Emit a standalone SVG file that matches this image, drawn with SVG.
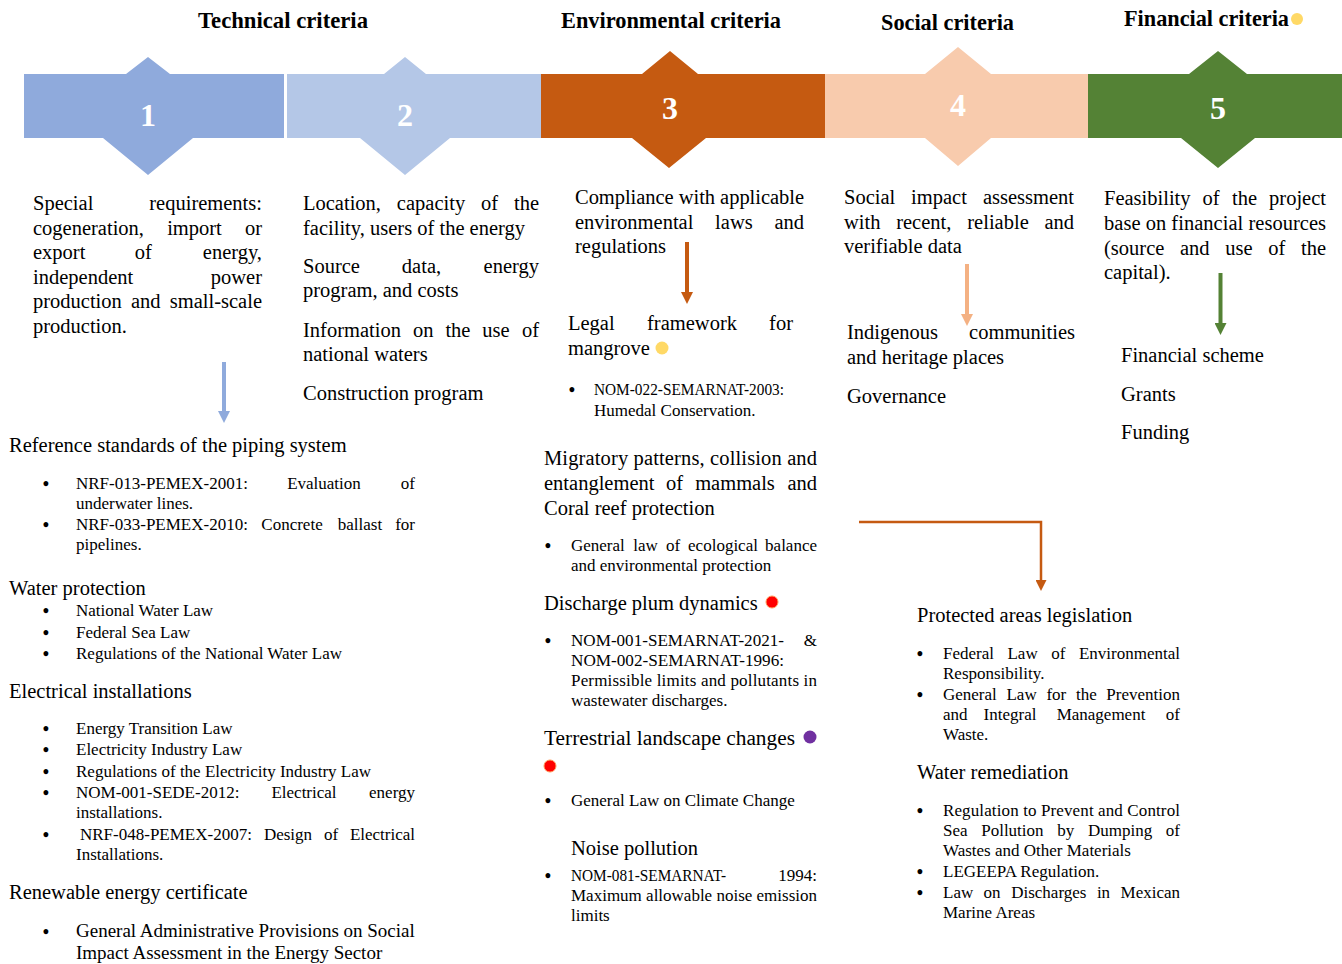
<svg xmlns="http://www.w3.org/2000/svg" width="1342" height="964" viewBox="0 0 1342 964">
<style>
text{font-family:"Liberation Serif","Times New Roman",serif;fill:#000}
.h{font-weight:bold;font-size:23px}
.n{font-weight:bold;font-size:32px;fill:#fff;text-anchor:middle}
.t{font-size:20.5px}
.s{font-size:17px}
.b{font-size:18px;font-weight:bold;text-anchor:middle}
.m{text-anchor:middle}
.e{text-anchor:end}
.arr{fill:none;stroke-width:4}
</style>
<defs>
<marker id="hb" markerUnits="userSpaceOnUse" markerWidth="12" markerHeight="12" viewBox="0 0 12 12" refX="0" refY="6" orient="auto"><path d="M0,0L12,6L0,12z" fill="#8FAADC"/></marker>
<marker id="ho" markerUnits="userSpaceOnUse" markerWidth="12" markerHeight="12" viewBox="0 0 12 12" refX="0" refY="6" orient="auto"><path d="M0,0L12,6L0,12z" fill="#C55A11"/></marker>
<marker id="hp" markerUnits="userSpaceOnUse" markerWidth="12" markerHeight="12" viewBox="0 0 12 12" refX="0" refY="6" orient="auto"><path d="M0,0L12,6L0,12z" fill="#F4B183"/></marker>
<marker id="hg" markerUnits="userSpaceOnUse" markerWidth="12" markerHeight="12" viewBox="0 0 12 12" refX="0" refY="6" orient="auto"><path d="M0,0L12,6L0,12z" fill="#548235"/></marker>
<marker id="ho2" markerUnits="userSpaceOnUse" markerWidth="11" markerHeight="11" viewBox="0 0 11 11" refX="0" refY="5.5" orient="auto"><path d="M0,0L11,5.5L0,11z" fill="#C55A11"/></marker>
</defs>
<rect width="1342" height="964" fill="#fff"/>

<g id="headers">
<text class="h" x="198" y="28" textLength="170" lengthAdjust="spacingAndGlyphs">Technical criteria</text>
<text class="h" x="561" y="28" textLength="220" lengthAdjust="spacingAndGlyphs">Environmental criteria</text>
<text class="h" x="881" y="30" textLength="133" lengthAdjust="spacingAndGlyphs">Social criteria</text>
<text class="h" x="1124" y="26" textLength="165" lengthAdjust="spacingAndGlyphs">Financial criteria</text>
<circle cx="1297" cy="19" r="6" fill="#FFD966"/>
</g>

<g id="step1">
<polygon points="24,74 126,74 148,57 170,74 284,74 284,138 193,138 148,175 103,138 24,138" fill="#8FAADC"/>
<text class="n" x="148" y="126">1</text>
</g>
<g id="step2">
<polygon points="287,74 384,74 405,57 426,74 541,74 541,138 450,138 405,175 360,138 287,138" fill="#B4C7E7"/>
<text class="n" x="405" y="126">2</text>
</g>
<g id="step3">
<polygon points="541,74 642,74 670,51 698,74 825,74 825,138 706,138 669,168 632,138 541,138" fill="#C55A11"/>
<text class="n" x="670" y="119">3</text>
</g>
<g id="step4">
<polygon points="825,74 925,74 958,47 991,74 1088,74 1088,138 991,138 958,166 925,138 825,138" fill="#F8CBAD"/>
<text class="n" x="958" y="116">4</text>
</g>
<g id="step5">
<polygon points="1088,74 1189,74 1218,51 1247,74 1342,74 1342,138 1255,138 1218,168 1181,138 1088,138" fill="#548235"/>
<text class="n" x="1218" y="119">5</text>
</g>

<g id="tech-special">
<text class="t" x="33" y="210">Special</text><text class="t e" x="262" y="210">requirements:</text>
<text class="t" x="33" y="235">cogeneration,</text><text class="t m" x="194.5" y="235">import</text><text class="t e" x="262" y="235">or</text>
<text class="t" x="33" y="259">export</text><text class="t m" x="143.3" y="259">of</text><text class="t e" x="262" y="259">energy,</text>
<text class="t" x="33" y="284">independent</text><text class="t e" x="262" y="284">power</text>
<text class="t" x="33" y="308">production</text><text class="t m" x="145.8" y="308">and</text><text class="t e" x="262" y="308">small-scale</text>
<text class="t" x="33" y="333">production.</text>
</g>

<g id="tech-location">
<text class="t" x="303" y="210">Location,</text><text class="t m" x="431" y="210">capacity</text><text class="t m" x="489.6" y="210">of</text><text class="t e" x="539" y="210">the</text>
<text class="t" x="303" y="235">facility, users of the energy</text>
<text class="t" x="303" y="273">Source</text><text class="t m" x="421.5" y="273">data,</text><text class="t e" x="539" y="273">energy</text>
<text class="t" x="303" y="297">program, and costs</text>
<text class="t" x="303" y="337">Information</text><text class="t m" x="423.2" y="337">on</text><text class="t m" x="457.9" y="337">the</text><text class="t m" x="496" y="337">use</text><text class="t e" x="539" y="337">of</text>
<text class="t" x="303" y="361">national waters</text>
<text class="t" x="303" y="400">Construction program</text>
</g>

<g id="tech-standards">
<text class="t" x="9" y="452">Reference standards of the piping system</text>
<text class="b" x="46" y="489.5">•</text>
<text class="s" x="76" y="489">NRF-013-PEMEX-2001:</text><text class="s m" x="324" y="489">Evaluation</text><text class="s e" x="415" y="489">of</text>
<text class="s" x="76" y="509">underwater lines.</text>
<text class="b" x="46" y="530.5">•</text>
<text class="s" x="76" y="530">NRF-033-PEMEX-2010:</text><text class="s m" x="292" y="530">Concrete</text><text class="s m" x="360" y="530">ballast</text><text class="s e" x="415" y="530">for</text>
<text class="s" x="76" y="550">pipelines.</text>
</g>

<g id="tech-water">
<text class="t" x="9" y="595">Water protection</text>
<text class="b" x="46" y="616.5">•</text><text class="s" x="76" y="616">National Water Law</text>
<text class="b" x="46" y="638.5">•</text><text class="s" x="76" y="638">Federal Sea Law</text>
<text class="b" x="46" y="659.5">•</text><text class="s" x="76" y="659">Regulations of the National Water Law</text>
</g>

<g id="tech-electrical">
<text class="t" x="9" y="698">Electrical installations</text>
<text class="b" x="46" y="734.5">•</text><text class="s" x="76" y="734">Energy Transition Law</text>
<text class="b" x="46" y="755.5">•</text><text class="s" x="76" y="755">Electricity Industry Law</text>
<text class="b" x="46" y="777.5">•</text><text class="s" x="76" y="777">Regulations of the Electricity Industry Law</text>
<text class="b" x="46" y="798.5">•</text><text class="s" x="76" y="798">NOM-001-SEDE-2012:</text><text class="s m" x="304" y="798">Electrical</text><text class="s e" x="415" y="798">energy</text>
<text class="s" x="76" y="818">installations.</text>
<text class="b" x="46" y="840.5">•</text><text class="s" x="80" y="840">NRF-048-PEMEX-2007:</text><text class="s m" x="288" y="840">Design</text><text class="s m" x="331" y="840">of</text><text class="s e" x="415" y="840">Electrical</text>
<text class="s" x="76" y="860">Installations.</text>
</g>

<g id="tech-renewable">
<text class="t" x="9" y="899">Renewable energy certificate</text>
<text class="b" x="46" y="937.5">•</text><text class="s" x="76" y="937" style="font-size:19px">General Administrative Provisions on Social</text>
<text class="s" x="76" y="959" style="font-size:19px">Impact Assessment in the Energy Sector</text>
</g>

<g id="env-compliance">
<text class="t" x="575" y="204" textLength="229" lengthAdjust="spacing">Compliance with applicable</text>
<text class="t" x="575" y="229">environmental</text><text class="t m" x="733.9" y="229">laws</text><text class="t e" x="804" y="229">and</text>
<text class="t" x="575" y="253">regulations</text>
</g>

<g id="env-mangrove">
<text class="t" x="568" y="330">Legal</text><text class="t m" x="692" y="330">framework</text><text class="t e" x="793" y="330">for</text>
<text class="t" x="568" y="355">mangrove</text>
<circle cx="662" cy="348" r="6.5" fill="#FFD966"/>
<text class="b" x="572" y="395.5">•</text>
<text class="s" x="594" y="395" textLength="190" lengthAdjust="spacingAndGlyphs">NOM-022-SEMARNAT-2003:</text>
<text class="s" x="594" y="416">Humedal Conservation.</text>
</g>

<g id="env-migratory">
<text class="t" x="544" y="465" textLength="273" lengthAdjust="spacing">Migratory patterns, collision and</text>
<text class="t" x="544" y="490">entanglement</text><text class="t m" x="674.5" y="490">of</text><text class="t m" x="735" y="490">mammals</text><text class="t e" x="817" y="490">and</text>
<text class="t" x="544" y="515">Coral reef protection</text>
<text class="b" x="548" y="551.5">•</text>
<text class="s" x="571" y="551">General</text><text class="s m" x="645.5" y="551">law</text><text class="s m" x="673" y="551">of</text><text class="s m" x="723" y="551">ecological</text><text class="s e" x="817" y="551">balance</text>
<text class="s" x="571" y="571">and environmental protection</text>
</g>

<g id="env-discharge">
<text class="t" x="544" y="610">Discharge plum dynamics</text>
<circle cx="772" cy="602" r="6" fill="#FF0000" stroke="#FF9A5A" stroke-width="1"/>
<text class="b" x="548" y="646.5">•</text>
<text class="s" x="571" y="646" textLength="213" lengthAdjust="spacingAndGlyphs">NOM-001-SEMARNAT-2021-</text><text class="s e" x="817" y="646">&amp;</text>
<text class="s" x="571" y="666" textLength="213" lengthAdjust="spacingAndGlyphs">NOM-002-SEMARNAT-1996:</text>
<text class="s" x="571" y="686" textLength="246" lengthAdjust="spacing">Permissible limits and pollutants in</text>
<text class="s" x="571" y="706">wastewater discharges.</text>
</g>

<g id="env-terrestrial">
<text class="t" x="544" y="745" textLength="251" lengthAdjust="spacingAndGlyphs">Terrestrial landscape changes</text>
<circle cx="810" cy="737" r="6.5" fill="#7030A0"/>
<circle cx="550" cy="766" r="6" fill="#FF0000" stroke="#FF9A5A" stroke-width="1"/>
<text class="b" x="548" y="806.5">•</text>
<text class="s" x="571" y="806">General Law on Climate Change</text>
</g>

<g id="env-noise">
<text class="t" x="571" y="855">Noise pollution</text>
<text class="b" x="548" y="881.5">•</text>
<text class="s" x="571" y="881" textLength="155" lengthAdjust="spacingAndGlyphs">NOM-081-SEMARNAT-</text><text class="s e" x="817" y="881">1994:</text>
<text class="s" x="571" y="901" textLength="246" lengthAdjust="spacing">Maximum allowable noise emission</text>
<text class="s" x="571" y="921">limits</text>
</g>

<g id="env-protected">
<text class="t" x="917" y="622">Protected areas legislation</text>
<text class="b" x="920" y="659.5">•</text>
<text class="s" x="943" y="659">Federal</text><text class="s m" x="1022.6" y="659">Law</text><text class="s m" x="1058.3" y="659">of</text><text class="s e" x="1180" y="659">Environmental</text>
<text class="s" x="943" y="679">Responsibility.</text>
<text class="b" x="920" y="700.5">•</text>
<text class="s" x="943" y="700">General</text><text class="s m" x="1021.6" y="700">Law</text><text class="s m" x="1056.3" y="700">for</text><text class="s m" x="1086.3" y="700">the</text><text class="s e" x="1180" y="700">Prevention</text>
<text class="s" x="943" y="720">and</text><text class="s m" x="1010" y="720">Integral</text><text class="s m" x="1101" y="720">Management</text><text class="s e" x="1180" y="720">of</text>
<text class="s" x="943" y="740">Waste.</text>
</g>

<g id="env-water-remediation">
<text class="t" x="917" y="779">Water remediation</text>
<text class="b" x="920" y="816.5">•</text>
<text class="s" x="943" y="816" textLength="237" lengthAdjust="spacing">Regulation to Prevent and Control</text>
<text class="s" x="943" y="836">Sea</text><text class="s m" x="1012.4" y="836">Pollution</text><text class="s m" x="1065.8" y="836">by</text><text class="s m" x="1120.1" y="836">Dumping</text><text class="s e" x="1180" y="836">of</text>
<text class="s" x="943" y="856">Wastes and Other Materials</text>
<text class="b" x="920" y="877.5">•</text>
<text class="s" x="943" y="877">LEGEEPA Regulation.</text>
<text class="b" x="920" y="898.5">•</text>
<text class="s" x="943" y="898">Law</text><text class="s m" x="992.1" y="898">on</text><text class="s m" x="1048.8" y="898">Discharges</text><text class="s m" x="1103.5" y="898">in</text><text class="s e" x="1180" y="898">Mexican</text>
<text class="s" x="943" y="918">Marine Areas</text>
</g>

<g id="soc-assessment">
<text class="t" x="844" y="204">Social</text><text class="t m" x="939" y="204">impact</text><text class="t e" x="1074" y="204">assessment</text>
<text class="t" x="844" y="229">with</text><text class="t m" x="923.8" y="229">recent,</text><text class="t m" x="998" y="229">reliable</text><text class="t e" x="1074" y="229">and</text>
<text class="t" x="844" y="253">verifiable data</text>
</g>

<g id="soc-items">
<text class="t" x="847" y="339">Indigenous</text><text class="t e" x="1075" y="339">communities</text>
<text class="t" x="847" y="364">and heritage places</text>
<text class="t" x="847" y="403">Governance</text>
</g>

<g id="fin-feasibility">
<text class="t" x="1104" y="205">Feasibility</text><text class="t m" x="1211" y="205">of</text><text class="t m" x="1244.5" y="205">the</text><text class="t e" x="1326" y="205">project</text>
<text class="t" x="1104" y="230" textLength="222" lengthAdjust="spacing">base on financial resources</text>
<text class="t" x="1104" y="255">(source</text><text class="t m" x="1194.8" y="255">and</text><text class="t m" x="1239" y="255">use</text><text class="t m" x="1276.9" y="255">of</text><text class="t e" x="1326" y="255">the</text>
<text class="t" x="1104" y="279">capital).</text>
</g>

<g id="fin-items">
<text class="t" x="1121" y="362">Financial scheme</text>
<text class="t" x="1121" y="401">Grants</text>
<text class="t" x="1121" y="439">Funding</text>
</g>

<g id="connectors">
<line class="arr" x1="224" y1="362" x2="224" y2="411" stroke="#8FAADC" marker-end="url(#hb)"/>
<line class="arr" x1="687" y1="242" x2="687" y2="292" stroke="#C55A11" marker-end="url(#ho)"/>
<line class="arr" x1="967" y1="264" x2="967" y2="314" stroke="#F4B183" marker-end="url(#hp)"/>
<line class="arr" x1="1220.5" y1="273" x2="1220.5" y2="323" stroke="#548235" marker-end="url(#hg)"/>
<polyline points="859,522 1041,522 1041,580" fill="none" stroke="#C55A11" stroke-width="2.5" marker-end="url(#ho2)"/>
</g>
</svg>
